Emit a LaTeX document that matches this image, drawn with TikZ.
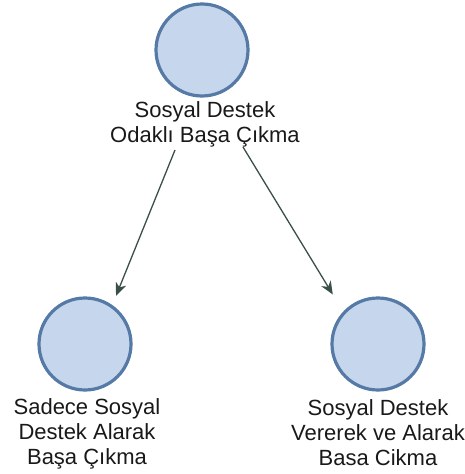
\documentclass[tikz,border=0pt]{standalone}
\usepackage{fontspec}
\setmainfont{Liberation Sans}
\usetikzlibrary{arrows.meta}
\definecolor{nodefill}{RGB}{198,214,236}
\definecolor{nodeline}{RGB}{86,122,166}
\definecolor{linkcol}{RGB}{58,78,74}
\tikzset{
  concept/.style={circle, draw=nodeline, fill=nodefill, line width=3.2pt,
    minimum size=92pt, inner sep=0pt},
  caption/.style={align=center, inner sep=0pt, anchor=north,
    font=\fontsize{22}{25}\selectfont, text=black!90},
  link/.style={draw=linkcol, line width=1.3pt,
    -{Stealth[length=13pt, width=11pt, inset=4pt]}}
}
\begin{document}
\begin{tikzpicture}[x=1pt, y=-1pt]
  \useasboundingbox (0,0) rectangle (464,474);
  % concepts
  \node[concept] (top)   at (202,50)  {};
  \node[concept] (left)  at (85,344)  {};
  \node[concept] (right) at (378,344) {};
  % labels
  \node[caption] (toplbl)   at (205,101) {Sosyal Destek\\Odaklı Başa Çıkma};
  \node[caption] (leftlbl)  at (87,398)  {Sadece Sosyal\\Destek Alarak\\Başa Çıkma};
  \node[caption] (rightlbl) at (378,399) {Sosyal Destek\\Vererek ve Alarak\\Basa Cikma};
  % connector start points just under the top label
  \coordinate (s1) at (175,150);
  \coordinate (s2) at (243,147);
  \draw[link, shorten >=10pt] (s1) -- (left.55);
  \draw[link, shorten >=20pt] (s2) -- (right.137);
\end{tikzpicture}
\end{document}
